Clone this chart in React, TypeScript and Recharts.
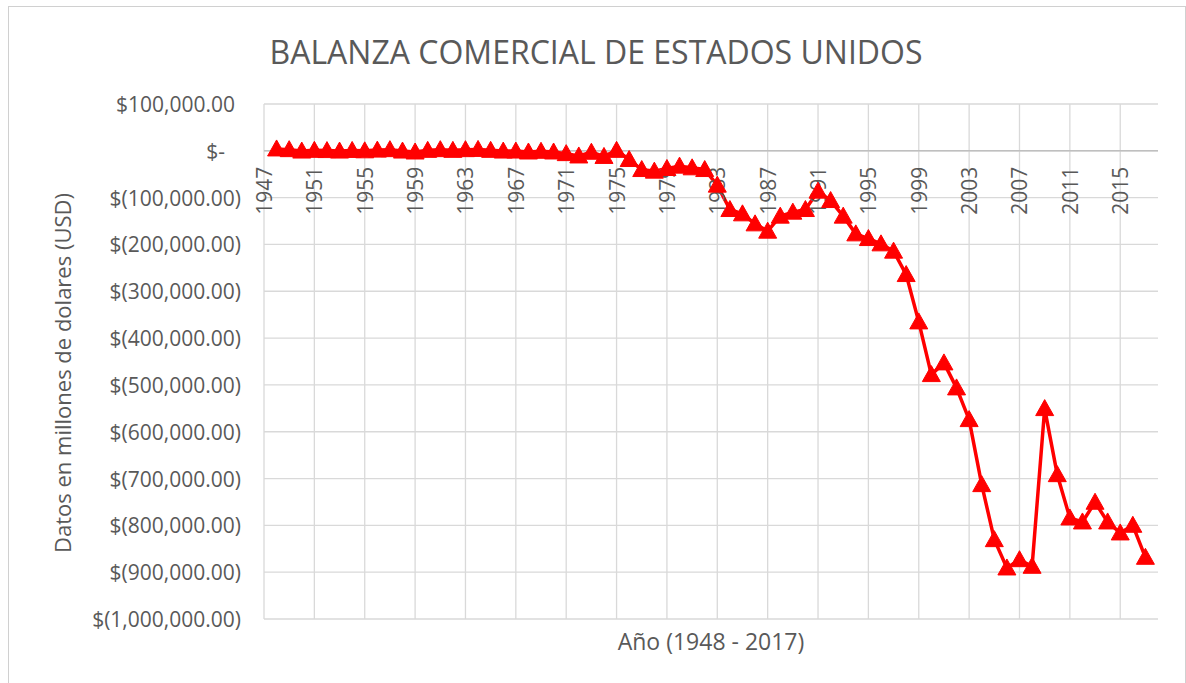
import React from 'react';
import { LineChart, Line, XAxis, YAxis, CartesianGrid, ReferenceLine, ReferenceDot } from 'recharts';

const chartTitle = 'BALANZA COMERCIAL DE ESTADOS UNIDOS';
const yTitle = 'Datos en millones de dolares (USD)';
const xTitle = 'Año (1948 - 2017)';

const years = [
  1948, 1949, 1950, 1951, 1952, 1953, 1954, 1955, 1956, 1957,
  1958, 1959, 1960, 1961, 1962, 1963, 1964, 1965, 1966, 1967,
  1968, 1969, 1970, 1971, 1972, 1973, 1974, 1975, 1976, 1977,
  1978, 1979, 1980, 1981, 1982, 1983, 1984, 1985, 1986, 1987,
  1988, 1989, 1990, 1991, 1992, 1993, 1994, 1995, 1996, 1997,
  1998, 1999, 2000, 2001, 2002, 2003, 2004, 2005, 2006, 2007,
  2008, 2009, 2010, 2011, 2012, 2013, 2014, 2015, 2016, 2017,
];

const balance = [
  4000, 2500, -500, 1000, 500, -500, 800, 0, 1500, 2500,
  -500, -2500, 1000, 2500, 1000, 2500, 3000, 1000, -500, -500,
  -2500, -1000, -2500, -6000, -11000, -3000, -12000, 1000, -18600, -40000,
  -43400, -37800, -32700, -36300, -40000, -73300, -125400, -134600, -156000, -171600,
  -139500, -131000, -125400, -86100, -106200, -139500, -177400, -187400, -198700, -214300,
  -264300, -365400, -478000, -453000, -506400, -574100, -713000, -830500, -891000, -873300,
  -887400, -550600, -691700, -784200, -792700, -750600, -792700, -816200, -799800, -868200,
];

const xDomain = [1947, 2018];
const xTicks = [1947, 1951, 1955, 1959, 1963, 1967, 1971, 1975, 1979, 1983, 1987, 1991, 1995, 1999, 2003, 2007, 2011, 2015];
const yTicks = [100000, 0, -100000, -200000, -300000, -400000, -500000, -600000, -700000, -800000, -900000, -1000000];

const data = years.map((year, i) => ({ year, value: balance[i] }));

const FONT = '"Open Sans", sans-serif';
const TEXT = '#595959';
const GRID = '#d9d9d9';

const withCommas = (n: number) => n.toFixed(2).replace(/\B(?=(\d{3})+(?!\d))/g, ',');
const fmtMoney = (v: number) => {
  if (v === 0) return '$-';
  if (v > 0) return '$' + withCommas(v);
  return '$(' + withCommas(Math.abs(v)) + ')';
};

const YTick = (props: any) => {
  const { x, y, payload } = props;
  const v = payload.value as number;
  const dx = v < 0 ? -23 : v === 0 ? -39 : -29;
  return (
    <text x={x + dx} y={y} textAnchor="end" dominantBaseline="central" fill={TEXT} fontSize={21} fontFamily={FONT}>
      {fmtMoney(v)}
    </text>
  );
};

const XLabel = (props: any) => {
  const { cx, cy, year } = props;
  if (cx == null || cy == null) return null;
  const yy = cy + 16;
  return (
    <text
      x={cx}
      y={yy}
      transform={`rotate(-90 ${cx} ${yy})`}
      textAnchor="end"
      dominantBaseline="central"
      fill={TEXT}
      fontSize={21}
      fontFamily={FONT}
    >
      {year}
    </text>
  );
};

const Tri = (props: any) => {
  const { cx, cy } = props;
  if (cx == null || cy == null) return null;
  return (
    <polygon
      points={`${cx},${cy - 9} ${cx + 9},${cy + 7} ${cx - 9},${cy + 7}`}
      fill="#ff0000"
      stroke="#ff0000"
      strokeWidth={1}
      strokeLinejoin="miter"
    />
  );
};

export default function App() {
  return (
    <div style={{ position: 'absolute', left: 0, top: 0, width: 1186, height: 683, overflow: 'hidden', background: '#fff' }}>
      <div
        style={{
          position: 'absolute',
          left: 8,
          top: 6,
          width: 1178,
          height: 700,
          border: '1px solid #d0d0d0',
          boxSizing: 'border-box',
        }}
      />
      <LineChart
        width={1186}
        height={683}
        data={data}
        margin={{ top: 104, right: 28, bottom: 64, left: 0 }}
        style={{ position: 'absolute', left: 0, top: 0 }}
      >
        <CartesianGrid stroke={GRID} strokeWidth={1.3} vertical={false} />
        <XAxis
          type="number"
          dataKey="year"
          domain={xDomain}
          ticks={xTicks}
          interval={0}
          axisLine={false}
          tickLine={false}
          tick={false}
          height={0}
        />
        <YAxis
          type="number"
          domain={[-1000000, 100000]}
          ticks={yTicks}
          interval={0}
          width={264}
          axisLine={false}
          tickLine={false}
          tickSize={0}
          tickMargin={0}
          tick={<YTick />}
        />
        {xTicks.map((t) => (
          <ReferenceLine key={'g' + t} x={t} stroke={GRID} strokeWidth={1.3} />
        ))}
        <ReferenceLine y={0} stroke="#bfbfbf" strokeWidth={1.5} />
        {xTicks.map((t) => (
          <ReferenceDot key={'l' + t} x={t} y={0} r={0} shape={(p: any) => <XLabel {...p} year={t} />} />
        ))}
        <Line
          type="linear"
          dataKey="value"
          stroke="#ff0000"
          strokeWidth={3.5}
          strokeLinejoin="round"
          dot={<Tri />}
          activeDot={false}
          isAnimationActive={false}
        />
      </LineChart>
      <div
        style={{
          position: 'absolute',
          left: 596,
          top: 51,
          transform: 'translate(-50%, -50%)',
          whiteSpace: 'nowrap',
          fontFamily: FONT,
          fontSize: 32,
          color: TEXT,
        }}
      >
        {chartTitle}
      </div>
      <div
        style={{
          position: 'absolute',
          left: 62,
          top: 373,
          transform: 'translate(-50%, -50%) rotate(-90deg)',
          whiteSpace: 'nowrap',
          fontFamily: FONT,
          fontSize: 22,
          color: TEXT,
        }}
      >
        {yTitle}
      </div>
      <div
        style={{
          position: 'absolute',
          left: 711,
          top: 641,
          transform: 'translate(-50%, -50%)',
          whiteSpace: 'nowrap',
          fontFamily: FONT,
          fontSize: 23,
          color: TEXT,
        }}
      >
        {xTitle}
      </div>
    </div>
  );
}
